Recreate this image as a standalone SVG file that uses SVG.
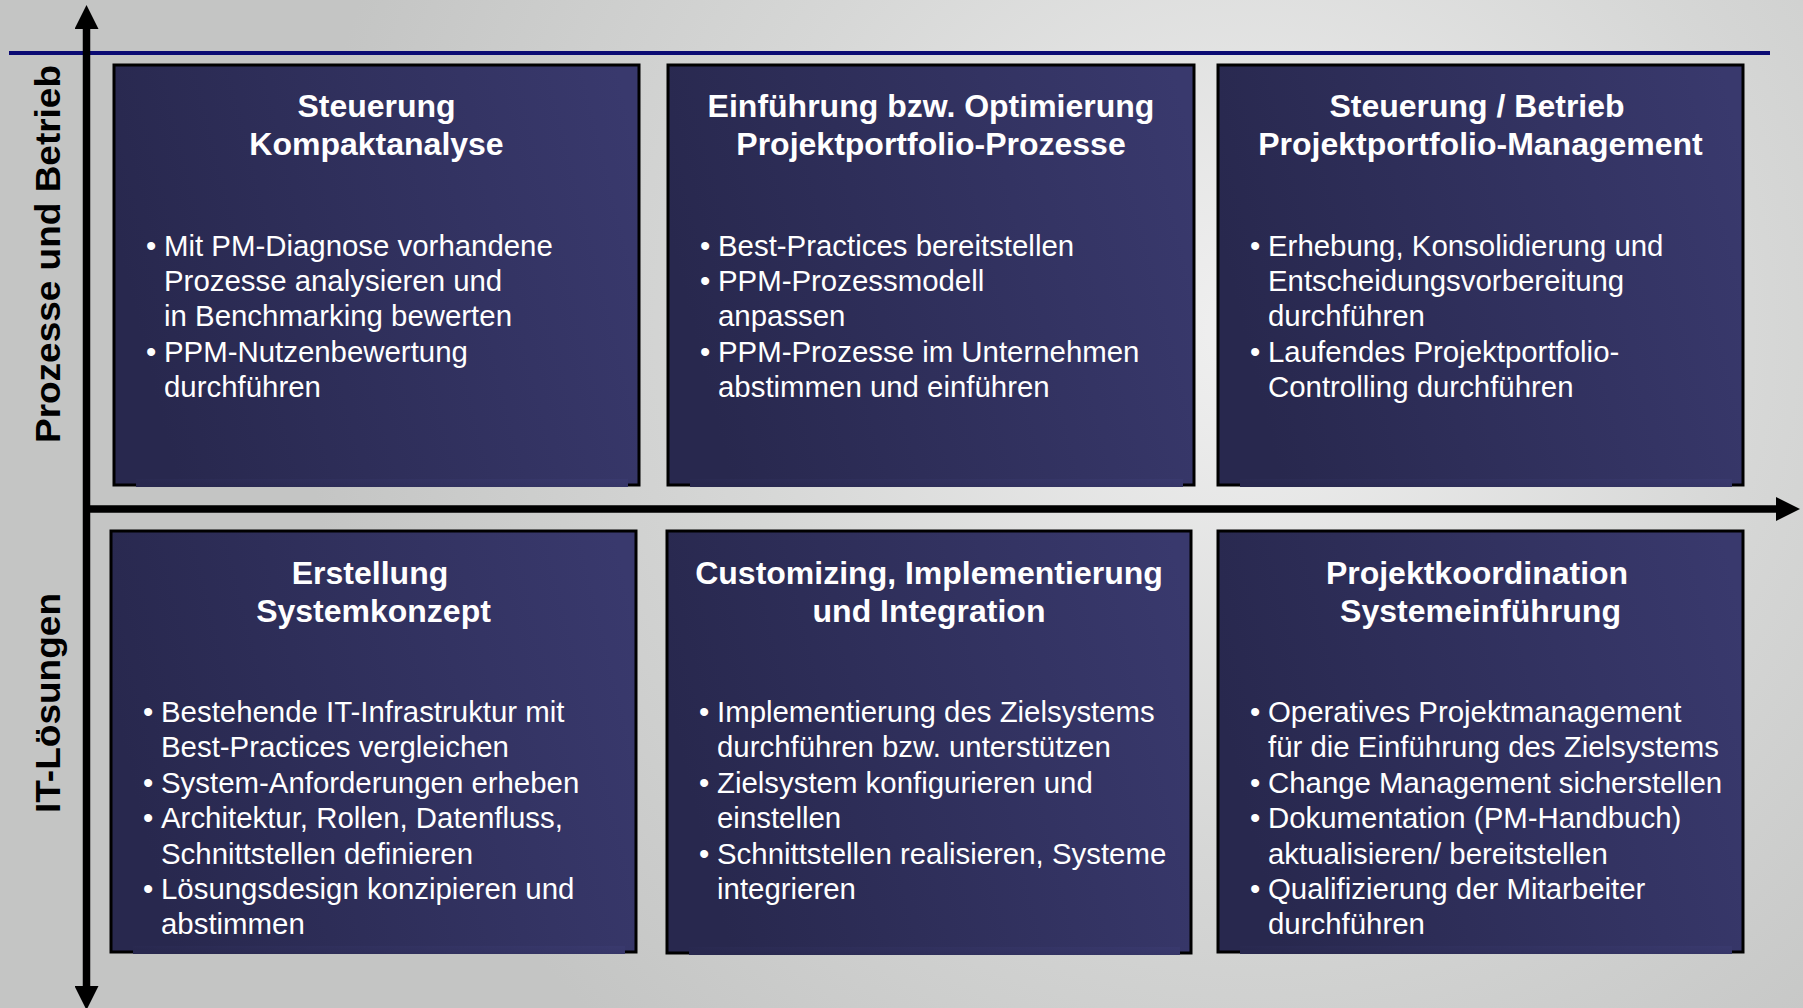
<svg xmlns="http://www.w3.org/2000/svg" width="1803" height="1008" viewBox="0 0 1803 1008">
  <defs>
    <radialGradient id="bg" gradientUnits="userSpaceOnUse" cx="1250" cy="330" r="950">
      <stop offset="0" stop-color="#f0f0f0"/>
      <stop offset="0.55" stop-color="#d6d7d6"/>
      <stop offset="1" stop-color="#c4c5c4"/>
    </radialGradient>
    <linearGradient id="boxFill" x1="0" y1="0.4" x2="1" y2="0.2">
      <stop offset="0" stop-color="#28284e"/>
      <stop offset="1" stop-color="#39396d"/>
    </linearGradient>
    <marker id="head" viewBox="0 0 24 24" refX="0" refY="12" markerWidth="24" markerHeight="24" markerUnits="userSpaceOnUse" orient="auto-start-reverse">
      <path d="M0,0 L24,12 L0,24 Z" fill="#000"/>
    </marker>
    <style>
      .box { fill: url(#boxFill); stroke: #000; stroke-width: 3; }
      .lip { fill: url(#boxFill); }
      .title { font-family: "Liberation Sans", Arial, sans-serif; font-weight: bold; font-size: 32px; fill: #fff; text-anchor: middle; }
      .item { font-family: "Liberation Sans", Arial, sans-serif; font-size: 29.4px; fill: #fff; }
      .axis { stroke: #000; stroke-width: 7.5; fill: none; }
      .axislabel { font-family: "Liberation Sans", Arial, sans-serif; font-weight: bold; font-size: 35px; fill: #000; text-anchor: middle; }
    </style>
  </defs>

  <!-- backdrop -->
  <rect x="0" y="0" width="1803" height="1008" fill="url(#bg)"/>

  <!-- top rule -->
  <line x1="9" y1="53" x2="1770" y2="53" stroke="#0b0b73" stroke-width="4"/>

  <!-- axes -->
  <g id="connectors">
    <line class="axis" x1="86.5" y1="29" x2="86.5" y2="986" marker-start="url(#head)" marker-end="url(#head)"/>
    <line class="axis" x1="83" y1="509" x2="1776" y2="509" marker-end="url(#head)"/>
  </g>

  <!-- axis labels -->
  <text class="axislabel" transform="translate(60,254) rotate(-90)" textLength="378" lengthAdjust="spacingAndGlyphs">Prozesse und Betrieb</text>
  <text class="axislabel" transform="translate(60,703) rotate(-90)" textLength="220" lengthAdjust="spacingAndGlyphs">IT-Lösungen</text>

  <!-- row 1 -->
  <g id="steuerung-kompaktanalyse" transform="translate(114,65)">
    <rect class="box" x="0" y="0" width="525" height="420"/>
    <rect class="lip" x="22" y="414" width="492" height="8"/>
    <text class="title" x="262.5" y="52">Steuerung</text>
    <text class="title" x="262.5" y="90">Kompaktanalyse</text>
    <text class="item" x="32" y="190.5">•</text>
    <text class="item" x="50" y="190.5">Mit PM-Diagnose vorhandene</text>
    <text class="item" x="50" y="225.9">Prozesse analysieren und</text>
    <text class="item" x="50" y="261.3">in Benchmarking bewerten</text>
    <text class="item" x="32" y="296.7">•</text>
    <text class="item" x="50" y="296.7">PPM-Nutzenbewertung</text>
    <text class="item" x="50" y="332.1">durchführen</text>
  </g>

  <g id="einfuehrung-optimierung" transform="translate(668,65)">
    <rect class="box" x="0" y="0" width="526" height="420"/>
    <rect class="lip" x="22" y="414" width="493" height="8"/>
    <text class="title" x="263" y="52">Einführung bzw. Optimierung</text>
    <text class="title" x="263" y="90">Projektportfolio-Prozesse</text>
    <text class="item" x="32" y="190.5">•</text>
    <text class="item" x="50" y="190.5">Best-Practices bereitstellen</text>
    <text class="item" x="32" y="225.9">•</text>
    <text class="item" x="50" y="225.9">PPM-Prozessmodell</text>
    <text class="item" x="50" y="261.3">anpassen</text>
    <text class="item" x="32" y="296.7">•</text>
    <text class="item" x="50" y="296.7">PPM-Prozesse im Unternehmen</text>
    <text class="item" x="50" y="332.1">abstimmen und einführen</text>
  </g>

  <g id="steuerung-betrieb" transform="translate(1218,65)">
    <rect class="box" x="0" y="0" width="525" height="420"/>
    <rect class="lip" x="22" y="414" width="492" height="8"/>
    <text class="title" x="259" y="52">Steuerung / Betrieb</text>
    <text class="title" x="262.5" y="90">Projektportfolio-Management</text>
    <text class="item" x="32" y="190.5">•</text>
    <text class="item" x="50" y="190.5">Erhebung, Konsolidierung und</text>
    <text class="item" x="50" y="225.9">Entscheidungsvorbereitung</text>
    <text class="item" x="50" y="261.3">durchführen</text>
    <text class="item" x="32" y="296.7">•</text>
    <text class="item" x="50" y="296.7">Laufendes Projektportfolio-</text>
    <text class="item" x="50" y="332.1">Controlling durchführen</text>
  </g>

  <!-- row 2 -->
  <g id="erstellung-systemkonzept" transform="translate(111,531)">
    <rect class="box" x="0" y="0" width="525" height="421"/>
    <rect class="lip" x="22" y="415" width="492" height="8"/>
    <text class="title" x="259" y="52.5">Erstellung</text>
    <text class="title" x="262.5" y="91">Systemkonzept</text>
    <text class="item" x="32" y="191">•</text>
    <text class="item" x="50" y="191">Bestehende IT-Infrastruktur mit</text>
    <text class="item" x="50" y="226.4">Best-Practices vergleichen</text>
    <text class="item" x="32" y="261.8">•</text>
    <text class="item" x="50" y="261.8">System-Anforderungen erheben</text>
    <text class="item" x="32" y="297.2">•</text>
    <text class="item" x="50" y="297.2">Architektur, Rollen, Datenfluss,</text>
    <text class="item" x="50" y="332.6">Schnittstellen definieren</text>
    <text class="item" x="32" y="368">•</text>
    <text class="item" x="50" y="368">Lösungsdesign konzipieren und</text>
    <text class="item" x="50" y="403.4">abstimmen</text>
  </g>

  <g id="customizing-integration" transform="translate(667,531)">
    <rect class="box" x="0" y="0" width="524" height="422"/>
    <rect class="lip" x="22" y="416" width="491" height="8"/>
    <text class="title" x="262" y="52.5">Customizing, Implementierung</text>
    <text class="title" x="262" y="91">und Integration</text>
    <text class="item" x="32" y="191">•</text>
    <text class="item" x="50" y="191">Implementierung des Zielsystems</text>
    <text class="item" x="50" y="226.4">durchführen bzw. unterstützen</text>
    <text class="item" x="32" y="261.8">•</text>
    <text class="item" x="50" y="261.8">Zielsystem konfigurieren und</text>
    <text class="item" x="50" y="297.2">einstellen</text>
    <text class="item" x="32" y="332.6">•</text>
    <text class="item" x="50" y="332.6">Schnittstellen realisieren, Systeme</text>
    <text class="item" x="50" y="368">integrieren</text>
  </g>

  <g id="projektkoordination" transform="translate(1218,531)">
    <rect class="box" x="0" y="0" width="525" height="421"/>
    <rect class="lip" x="22" y="415" width="492" height="8"/>
    <text class="title" x="259" y="52.5">Projektkoordination</text>
    <text class="title" x="262.5" y="91">Systemeinführung</text>
    <text class="item" x="32" y="191">•</text>
    <text class="item" x="50" y="191">Operatives Projektmanagement</text>
    <text class="item" x="50" y="226.4">für die Einführung des Zielsystems</text>
    <text class="item" x="32" y="261.8">•</text>
    <text class="item" x="50" y="261.8">Change Management sicherstellen</text>
    <text class="item" x="32" y="297.2">•</text>
    <text class="item" x="50" y="297.2">Dokumentation (PM-Handbuch)</text>
    <text class="item" x="50" y="332.6">aktualisieren/ bereitstellen</text>
    <text class="item" x="32" y="368">•</text>
    <text class="item" x="50" y="368">Qualifizierung der Mitarbeiter</text>
    <text class="item" x="50" y="403.4">durchführen</text>
  </g>
</svg>
